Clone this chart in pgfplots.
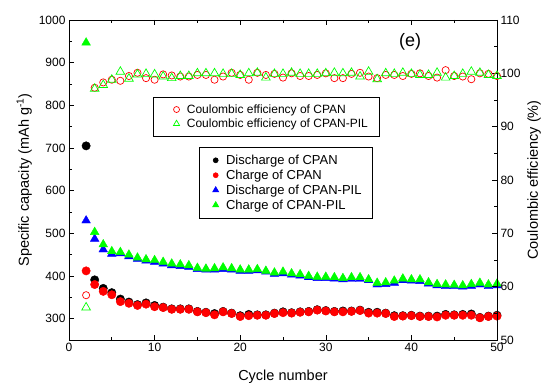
\documentclass[border=0pt]{standalone}
\usepackage{pgfplots}
\pgfplotsset{compat=1.18}
\usepackage{fontspec}
\setmainfont{Liberation Sans}
\definecolor{pgreen}{RGB}{0,255,0}
\definecolor{pred}{RGB}{255,0,0}
\definecolor{pblue}{RGB}{0,0,255}

\pgfplotstableread{
c dchCPAN chCPAN dchPIL chPIL ceCPAN cePIL
2 705 412 530 947 58.4 56.1
3 391 380 487 503 97.3 97.1
4 371 364 462 474 98.3 97.8
5 361 356 452 458 98.8 98.8
6 346 340 453 456 98.6 100.3
7 339 336 446 450 99.5 99.0
8 333 331 440 443 100.1 99.8
9 337 334 436 439 99.1 99.9
10 331 328 433 437 98.8 99.8
11 327 326 429 433 99.8 99.4
12 323 322 425 429 99.6 99.1
13 323 322 423 427 99.4 99.5
14 323 322 421 425 99.4 99.5
15 317 316 416 419 99.7 100.0
16 315 314 415 417 99.7 100.0
17 312 309 415 418 98.8 100.0
18 317 316 416 420 99.4 99.9
19 313 312 415 418 100.1 99.9
20 307 305 412 415 99.7 99.7
21 310 307 412 415 98.8 100.0
22 309 308 413 416 100.1 100.1
23 309 308 410 412 99.7 99.2
24 313 312 405 408 99.9 99.9
25 316 314 406 410 99.2 99.9
26 314 313 403 406 100.0 100.1
27 316 315 401 404 99.5 99.9
28 317 316 397 400 99.5 99.9
29 321 320 395 398 99.7 99.9
30 319 318 395 398 100.0 100.0
31 317 316 394 397 99.1 100.1
32 318 316 392 395 99.1 100.0
33 318 317 393 397 99.9 100.1
34 320 319 393 397 100.1 99.4
35 315 313 390 392 99.4 100.3
36 315 313 380 384 99.1 98.9
37 313 312 381 385 99.7 100.0
38 307 305 384 389 99.7 99.9
39 307 306 390 394 99.5 100.1
40 308 307 389 392 99.9 99.9
41 306 305 388 392 100.0 99.7
42 306 305 382 385 99.5 99.7
43 306 304 378 381 99.2 100.1
44 310 308 376 380 100.6 99.2
45 309 308 376 379 99.5 99.5
46 310 308 375 378 99.4 99.9
47 311 308 377 381 98.9 100.3
48 303 302 380 384 100.0 100.1
49 306 305 376 380 99.9 99.7
50 308 306 378 382 99.5 99.5
}\datatable

\begin{document}
\begin{tikzpicture}
\pgfplotsset{
  every axis/.append style={
    scale only axis, width=428pt, height=320pt,
    xmin=0, xmax=50,
    tick align=inside,
    major tick length=5pt, minor tick length=3pt,
    tick label style={font=\fontsize{12}{14}\selectfont},
    label style={font=\fontsize{14.5}{16}\selectfont},
    /pgf/number format/assume math mode=true,
    /pgf/number format/1000 sep={},
    axis line style={line width=0.8pt},
    every tick/.style={line width=0.6pt, black},
    legend cell align=left,
  }
}
\begin{axis}[
  at={(0,0)}, anchor=south west,
  ymin=250, ymax=1000,
  ytick={300,400,...,1000}, minor ytick={250,350,...,950},
  xtick={0,10,...,50}, minor xtick={5,15,...,45},
  xtick pos=both, ytick pos=left,
  xlabel={Cycle number}, ylabel={Specific capacity (mAh g\textsuperscript{-1})},
  xlabel style={yshift=-11pt},
  legend image code/.code={\path (-7pt,0pt) (8pt,0pt); \draw[#1] plot coordinates {(0pt,0pt)};},
  legend style={at={(0.304,0.603)}, anchor=north west, draw=black, line width=0.6pt,
    fill=white, font=\fontsize{13}{14}\selectfont, row sep=0pt,
    inner xsep=9pt, inner ysep=5.5pt},
]
\addlegendimage{only marks, mark=*, black, mark size=2.5pt}
\addlegendentry{Discharge of CPAN}
\addlegendimage{only marks, mark=*, pred, mark size=2.5pt}
\addlegendentry{Charge of CPAN}
\addlegendimage{only marks, mark=triangle*, pblue, mark size=3.5pt}
\addlegendentry{Discharge of CPAN-PIL}
\addlegendimage{only marks, mark=triangle*, pgreen, mark size=3.5pt}
\addlegendentry{Charge of CPAN-PIL}
\addplot[forget plot, only marks, mark=*, black, mark size=4.2pt] table[x=c, y=dchCPAN] {\datatable};
\addplot[forget plot, only marks, mark=*, pred, mark size=4.2pt] table[x=c, y=chCPAN] {\datatable};
\addplot[forget plot, only marks, mark=triangle*, pblue, mark size=5pt] table[x=c, y=dchPIL] {\datatable};
\addplot[forget plot, only marks, mark=triangle*, pgreen, mark size=5pt] table[x=c, y=chPIL] {\datatable};
\node[font=\fontsize{18}{20}\selectfont] at (rel axis cs:0.797,0.931) {(e)};
\end{axis}
\begin{axis}[
  at={(0,0)}, anchor=south west,
  ymin=50, ymax=110,
  ytick={50,60,...,110}, minor ytick={55,65,...,105},
  axis x line=none, axis y line*=right, ytick pos=right,
  ylabel={Coulombic efficiency (\%)},
  legend image code/.code={\path (-14pt,0pt) (8pt,0pt); \draw[#1] plot coordinates {(0pt,0pt)};},
  legend style={at={(0.196,0.759)}, anchor=north west, draw=black, line width=0.6pt,
    fill=white, font=\fontsize{12}{14}\selectfont, row sep=0pt,
    inner xsep=9pt, inner ysep=5pt},
]
\addlegendimage{only marks, mark=o, pred, mark size=3pt, line width=0.7pt}
\addlegendentry{Coulombic efficiency of CPAN}
\addlegendimage{only marks, mark=triangle, pgreen, mark size=3.5pt, line width=0.7pt}
\addlegendentry{Coulombic efficiency of CPAN-PIL}
\addplot[forget plot, only marks, mark=o, pred, mark size=3.6pt, line width=0.7pt] table[x=c, y=ceCPAN] {\datatable};
\addplot[forget plot, only marks, mark=triangle, pgreen, mark size=5pt, line width=0.7pt] table[x=c, y=cePIL] {\datatable};
\end{axis}
\pgfresetboundingbox
\path[use as bounding box] (-69pt,-43pt) rectangle (476pt,340pt);
\end{tikzpicture}
\end{document}
